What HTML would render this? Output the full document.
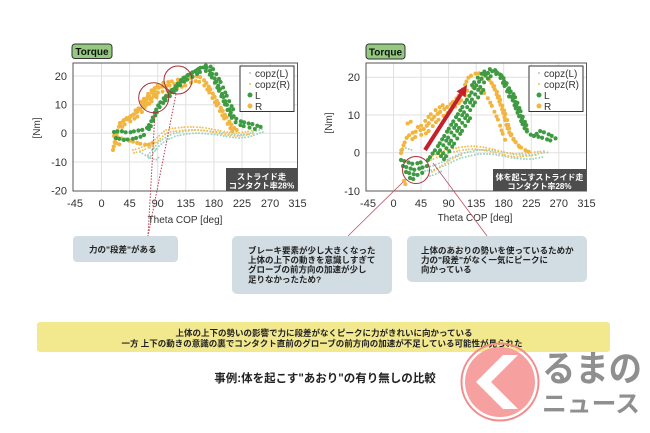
<!DOCTYPE html>
<html><head><meta charset="utf-8">
<style>
html,body{margin:0;padding:0;background:#fff;}
svg{display:block;font-family:"Liberation Sans","Noto Sans CJK JP",sans-serif;}
.g{fill:none;stroke:#3f9b42;stroke-width:4.2;stroke-linecap:round;stroke-dasharray:0 3.4 0 4.6 0 3.9 0 5.2;}
.o{fill:none;stroke:#f1b540;stroke-width:4.2;stroke-linecap:round;stroke-dasharray:0 3.6 0 4.4 0 3.2 0 5;}
.g2{fill:none;stroke:#3f9b42;stroke-width:4;stroke-linecap:round;stroke-dasharray:0 5.5 0 3.5 0 6;stroke-dashoffset:2;}
.o2{fill:none;stroke:#f1b540;stroke-width:4;stroke-linecap:round;stroke-dasharray:0 5 0 3.6 0 6.4;stroke-dashoffset:2;}
.so{fill:none;stroke:#f3bf55;stroke-width:2;stroke-linecap:round;stroke-dasharray:0 2.6 0 3.6 0 3;}
.st{fill:none;stroke:#9fd2c2;stroke-width:2;stroke-linecap:round;stroke-dasharray:0 2.8 0 3.4 0 3.1;}
.grid{stroke:#e0e0e0;stroke-width:1;}
.tk{font-size:11px;fill:#333;}
.lg{font-size:10px;fill:#333;}
</style></head><body>
<svg width="650" height="433" viewBox="0 0 650 433">
<defs>
<clipPath id="c1"><rect x="73" y="63" width="224.5" height="128"/></clipPath>
<clipPath id="c2"><rect x="366" y="63" width="220.5" height="128"/></clipPath>
</defs>

<!-- LEFT CHART -->
<rect x="72" y="44" width="40" height="14.5" rx="3" fill="#94c97f" stroke="#333" stroke-width="1"/>
<text x="92" y="55" text-anchor="middle" font-size="10" font-weight="bold" fill="#111">Torque</text>
<rect x="73" y="63" width="224.5" height="128" fill="#fff"/>
<g class="grid">
<line x1="73" y1="76" x2="297.5" y2="76"/><line x1="73" y1="104.7" x2="297.5" y2="104.7"/>
<line x1="73" y1="133.3" x2="297.5" y2="133.3"/><line x1="73" y1="162" x2="297.5" y2="162"/>
<line x1="101.5" y1="63" x2="101.5" y2="191"/><line x1="129.6" y1="63" x2="129.6" y2="191"/>
<line x1="157.7" y1="63" x2="157.7" y2="191"/><line x1="185.8" y1="63" x2="185.8" y2="191"/>
<line x1="213.9" y1="63" x2="213.9" y2="191"/><line x1="242" y1="63" x2="242" y2="191"/>
<line x1="270.1" y1="63" x2="270.1" y2="191"/>
</g>
<g clip-path="url(#c1)">
<path class="st" d="M148,155 L153,149 L158,143 L163,139 L168,136 L175,133 L185,131 L197,130 L208,131 L218,132 L228,134 L238,135 L248,134 L256,131 L262,129"/>
<path class="st" transform="translate(1,3)" d="M148,155 L153,149 L158,143 L163,139 L168,136 L175,133 L185,131 L197,130 L208,131 L218,132 L228,134 L238,135 L248,134 L256,131 L262,129"/>
<path class="st" d="M140,152 L145,155 L150,158 L156,160 L160,156 M150,148 L158,150"/>
<path class="so" d="M133,150 L140,148 L147,145 L153,141 L158,137 L163,132 L168,129 L176,128 L186,127 L196,127 L206,128 L216,130 L226,132 L236,133 L246,132 L254,130"/>
<path class="so" transform="translate(1,3)" d="M133,150 L140,148 L147,145 L153,141 L158,137 L163,132 L168,129 L176,128 L186,127 L196,127 L206,128 L216,130 L226,132 L236,133 L246,132 L254,130"/>

<path class="o" d="M113,150 L115,141 L117,132 L120,124 L125,119 L131,116 L137,112 L142,107 L146,100 L150,95 L155,90 L160,87 L166,86 L172,85 L178,83 L184,81 L190,78 L195,76 L200,77 L205,81 L209,87 L213,94 L217,101 L221,108 L225,115 L229,121 L233,127 L238,131"/>
<path class="o2" transform="translate(0,5)" d="M120,124 L125,119 L131,116 L137,112 L142,107 L146,100 L150,95 L155,90 L160,87 L166,86 L172,85 L178,83 L184,81 L190,78 L195,76 L200,77 L205,81 L209,87 L213,94 L217,101 L221,108 L225,115 L229,121 L233,127"/>
<path class="o2" transform="translate(2,-4)" d="M131,116 L137,112 L142,107 L146,100 L150,95 L155,90 L160,87 L166,86 L172,85 L178,83 L184,81 L190,78 L195,76"/>
<path class="o" transform="translate(-2,2)" d="M122,121 L128,118 L134,114 L140,109"/>
<path class="o2" d="M140,104 L146,96 L152,90 L158,86 M143,108 L150,100 L157,93 L163,90 M147,106 L154,99 L160,95"/>
<path class="o" d="M114,136 L120,138 L127,140 L134,142 L141,144 L148,145 L153,143 M116,143 L121,145"/>

<path class="g" d="M114,132 L121,131 L128,133 L135,131 L142,130 L147,128 L151,122 L155,112 L159,104 L164,98 L170,92 L176,86 L182,79 L188,75 L194,72 L200,68 L206,67 L211,72 L215,79 L219,87 L223,96 L227,105 L231,113 L235,118 L240,121 L246,123 L252,124 L258,126 L264,128"/>
<path class="g2" transform="translate(0,4)" d="M147,128 L151,122 L155,112 L159,104 L164,98 L170,92 L176,86 L182,79 L188,75 L194,72 L200,68 L206,67 L211,72 L215,79 L219,87 L223,96 L227,105 L231,113 L235,118 L240,121 L246,123 L252,124 L258,126"/>
<path class="g2" transform="translate(3,-2)" d="M159,104 L164,98 L170,92 L176,86 L182,79 L188,75 L194,72 L200,68 L206,67 L211,72 L215,79 L219,87 L223,96 L227,105 L231,113"/>
<path class="g" d="M116,138 L124,140 L132,139 L140,137 L146,134 M264,131"/>
</g>
<rect x="73" y="63" width="224.5" height="128" fill="none" stroke="#555" stroke-width="1"/>
<rect x="240" y="66" width="54" height="45.5" fill="#fff" stroke="#333" stroke-width="1"/>
<circle cx="250" cy="73" r="1" fill="#9fd2c2"/><text class="lg" x="255" y="77">copz(L)</text>
<circle cx="250" cy="84" r="1" fill="#f3bf55"/><text class="lg" x="255" y="88">copz(R)</text>
<circle cx="250" cy="95" r="2.5" fill="#3f9b42"/><text class="lg" x="255" y="99">L</text>
<circle cx="250" cy="106" r="2.5" fill="#f1b540"/><text class="lg" x="255" y="110">R</text>
<rect x="226" y="168" width="71" height="23" fill="#4d4d4d"/>
<text x="261.5" y="179.5" text-anchor="middle" font-size="8.2" font-weight="bold" fill="#fff">ストライド走</text>
<text x="261.5" y="188.5" text-anchor="middle" font-size="8.2" font-weight="bold" fill="#fff">コンタクト率28%</text>
<g class="tk" text-anchor="end">
<text x="67" y="80">20</text><text x="67" y="108.5">10</text><text x="67" y="137">0</text>
<text x="67" y="166">-10</text><text x="67" y="194.5">-20</text>
</g>
<g class="tk" text-anchor="middle">
<text x="75" y="207">-45</text><text x="101.5" y="207">0</text><text x="129.6" y="207">45</text>
<text x="157.7" y="207">90</text><text x="185.8" y="207">135</text><text x="213.9" y="207">180</text>
<text x="242" y="207">225</text><text x="270.1" y="207">270</text><text x="297.5" y="207">315</text>
</g>
<text x="185" y="223" text-anchor="middle" font-size="10" fill="#333">Theta COP [deg]</text>
<text transform="translate(40,128) rotate(-90)" text-anchor="middle" font-size="10" fill="#333">[Nm]</text>

<!-- RIGHT CHART -->
<rect x="366" y="44" width="39" height="15" rx="3" fill="#94c97f" stroke="#333" stroke-width="1"/>
<text x="385.5" y="55.5" text-anchor="middle" font-size="10" font-weight="bold" fill="#111">Torque</text>
<rect x="366" y="63" width="220.5" height="128" fill="#fff"/>
<g class="grid">
<line x1="366" y1="77.3" x2="586.5" y2="77.3"/><line x1="366" y1="115" x2="586.5" y2="115"/>
<line x1="366" y1="152.7" x2="586.5" y2="152.7"/>
<line x1="393.5" y1="63" x2="393.5" y2="191"/><line x1="421" y1="63" x2="421" y2="191"/>
<line x1="448.6" y1="63" x2="448.6" y2="191"/><line x1="476.2" y1="63" x2="476.2" y2="191"/>
<line x1="503.7" y1="63" x2="503.7" y2="191"/><line x1="531.3" y1="63" x2="531.3" y2="191"/>
<line x1="558.8" y1="63" x2="558.8" y2="191"/>
</g>
<g clip-path="url(#c2)">
<path class="st" d="M400,150 L406,148 L412,150 M424,167 L432,166 L440,163 L447,160 L453,157 L460,154 L468,152 L478,150 L490,150 L502,152 L512,154 L522,155 L532,155 L542,153 L550,152"/>
<path class="st" transform="translate(1,4)" d="M424,167 L432,166 L440,163 L447,160 L453,157 L460,154 L468,152 L478,150 L490,150 L502,152 L512,154 L522,155 L532,155 L542,153"/>
<path class="st" d="M430,176 L436,174 L442,171"/>
<path class="so" d="M430,157 L437,154 L444,151 L452,149 L462,147 L472,146 L482,147 L492,149 L500,151 L508,153 L516,154 L526,153 L536,152 L545,151"/>
<path class="so" transform="translate(1,3)" d="M430,157 L437,154 L444,151 L452,149 L462,147 L472,146 L482,147 L492,149 L500,151 L508,153 L516,154 L526,153 L536,152"/>
<path class="so" d="M432,172 L438,168 L444,164 L450,160 L456,157 L462,155"/>
<path class="o" d="M401,153 L404,144 L407,137 L412,133 L418,131 L424,129 L429,123 L434,117 L440,112 L446,108 L451,104 L456,99 L461,93 L465,85 L468,78 L472,75 L477,73 L482,74 L487,77 L491,82 L495,90 L498,98 L501,106 L504,115 L506,124 L509,132 L513,139 L518,145 L523,149 L529,152"/>
<path class="o2" transform="translate(3,4)" d="M407,137 L412,133 L418,131 L424,129 L429,123 L434,117 L440,112 L446,108 L451,104 L456,99 L461,93 L465,85 M487,77 L491,82 L495,90 L498,98 L501,106 L504,115 L506,124 L509,132 L513,139 L518,145"/>
<path class="o2" transform="translate(-3,-3)" d="M418,131 L424,129 L429,123 L434,117 L440,112 L446,108"/>
<path class="o2" d="M480,88 L486,95 L491,104 L495,113 L499,122 L502,132 L506,142 M405,125 L410,122 L416,120 M470,88 L476,86 M403,178 L406,186"/>
<path class="g" d="M428,160 L433,153 L438,146 L443,138 L448,130 L453,122 L458,114 L463,106 L468,98 L473,90 L478,83 L483,77 L488,73 L493,71 L498,72 L502,77 L506,85 L510,93 L513,101 L516,109 L519,116 L522,123 L525,129 L529,134 L534,136 L540,137 L546,139 L552,141"/>
<path class="g2" transform="translate(3,3)" d="M433,153 L438,146 L443,138 L448,130 L453,122 L458,114 L463,106 L468,98 L473,90 L478,83 L483,77 L488,73 L493,71 L498,72 L502,77 L506,85 L510,93 L513,101 L516,109 L519,116 L522,123 L525,129"/>
<path class="g2" transform="translate(6,6)" d="M433,153 L438,146 L443,138 L448,130 L453,122 L458,114 L463,106 L468,98 L473,90 L478,83 M506,85 L510,93 L513,101 L516,109 L519,116 L522,123"/>
<path class="g2" transform="translate(9,9)" d="M433,153 L438,146 L443,138 L448,130 L453,122 L458,114 L463,106"/>
<path class="g2" transform="translate(-3,-2)" d="M473,90 L478,83 L483,77 L488,73 L493,71 L498,72 L502,77 L506,85 L510,93 L513,101"/>
<path class="g" d="M401,160 L407,162 L413,164 L419,163 L425,161 M403,166 L409,168 L415,170 L421,168 L427,166 M406,172 L412,174 L418,175 L424,172 M410,178 L416,180 M534,136 L540,131 L546,133 L552,136 L558,140 M563,143"/>
</g>
<rect x="366" y="63" width="220.5" height="128" fill="none" stroke="#555" stroke-width="1"/>
<line x1="425" y1="150" x2="461" y2="94.2" stroke="#c4202c" stroke-width="4"/>
<polygon points="467,85 465.5,97.2 456.5,91.4" fill="#c4202c"/>
<rect x="529" y="66" width="54" height="45.5" fill="#fff" stroke="#333" stroke-width="1"/>
<circle cx="539" cy="73" r="1" fill="#9fd2c2"/><text class="lg" x="544" y="77">copz(L)</text>
<circle cx="539" cy="84" r="1" fill="#f3bf55"/><text class="lg" x="544" y="88">copz(R)</text>
<circle cx="539" cy="95" r="2.5" fill="#3f9b42"/><text class="lg" x="544" y="99">L</text>
<circle cx="539" cy="106" r="2.5" fill="#f1b540"/><text class="lg" x="544" y="110">R</text>
<rect x="493" y="169" width="93" height="22" fill="#4d4d4d"/>
<text x="539.5" y="180" text-anchor="middle" font-size="8" font-weight="bold" fill="#fff">体を起こすストライド走</text>
<text x="539.5" y="189" text-anchor="middle" font-size="8" font-weight="bold" fill="#fff">コンタクト率28%</text>
<g class="tk" text-anchor="end">
<text x="360" y="81">20</text><text x="360" y="119">10</text><text x="360" y="156.7">0</text><text x="360" y="195">-10</text>
</g>
<g class="tk" text-anchor="middle">
<text x="368" y="207">-45</text><text x="393.5" y="207">0</text><text x="421" y="207">45</text>
<text x="448.6" y="207">90</text><text x="476.2" y="207">135</text><text x="503.7" y="207">180</text>
<text x="531.3" y="207">225</text><text x="558.8" y="207">270</text><text x="586.5" y="207">315</text>
</g>
<text x="475" y="221" text-anchor="middle" font-size="10" fill="#333">Theta COP [deg]</text>
<text transform="translate(332,123) rotate(-90)" text-anchor="middle" font-size="10" fill="#333">[Nm]</text>

<g fill="none" stroke="#a8303c" stroke-width="1">
<circle cx="153.7" cy="97.7" r="15"/>
<circle cx="178" cy="80" r="14"/>
<circle cx="416" cy="170" r="13.5"/>
</g>
<g stroke="#b83a4c" stroke-width="1" stroke-dasharray="1.5 1.5">
<line x1="155" y1="112.5" x2="148" y2="236"/>
<line x1="176" y1="94" x2="148" y2="236"/>
</g>
<g stroke="#c05060" stroke-width="0.8">
<line x1="403" y1="182" x2="348" y2="236"/>
<line x1="433" y1="163" x2="487" y2="236"/>
</g>

<rect x="73" y="236" width="105" height="26" rx="4" fill="#d1dde3"/>
<text x="89" y="252.5" font-size="8.5" font-weight="bold" fill="#222">力の"段差"がある</text>
<rect x="232" y="236" width="160" height="58" rx="5" fill="#d1dde3"/>
<g font-size="8.5" font-weight="bold" fill="#222">
<text x="248" y="253.3">ブレーキ要素が少し大きくなった</text>
<text x="248" y="263">上体の上下の動きを意識しすぎて</text>
<text x="248" y="272.7">グローブの前方向の加速が少し</text>
<text x="248" y="282.4">足りなかったため?</text>
</g>
<rect x="407" y="236" width="180" height="46" rx="5" fill="#d1dde3"/>
<g font-size="8.5" font-weight="bold" fill="#222">
<text x="421" y="253.3">上体のあおりの勢いを使っているためか</text>
<text x="421" y="263">力の"段差"がなく一気にピークに</text>
<text x="421" y="272.7">向かっている</text>
</g>

<rect x="37" y="322" width="573" height="30" rx="3" fill="#f2e88e"/>
<g font-size="8.5" font-weight="bold" fill="#222" text-anchor="middle">
<text x="324" y="336">上体の上下の勢いの影響で力に段差がなくピークに力がきれいに向かっている</text>
<text x="322" y="346.6">一方 上下の動きの意識の裏でコンタクト直前のグローブの前方向の加速が不足している可能性が見られた</text>
</g>

<circle cx="500" cy="382" r="38.5" fill="none" stroke="#f28c8c" stroke-width="2"/>
<circle cx="500" cy="382" r="35" fill="#f7a0a0"/>
<polygon points="476,382 503,355 518,355 491,382 518,409 503,409" fill="#fff"/>

<text x="325" y="382" text-anchor="middle" font-size="11.5" font-weight="bold" fill="#222">事例:体を起こす"あおり"の有り無しの比較</text>

<text x="542" y="381" font-size="36" font-weight="bold" fill="#8f8f8f" textLength="100" lengthAdjust="spacingAndGlyphs">るまの</text>
<text x="542" y="412" font-size="24" font-weight="bold" fill="#8f8f8f" textLength="98" lengthAdjust="spacingAndGlyphs">ニュース</text>
</svg>
</body></html>
